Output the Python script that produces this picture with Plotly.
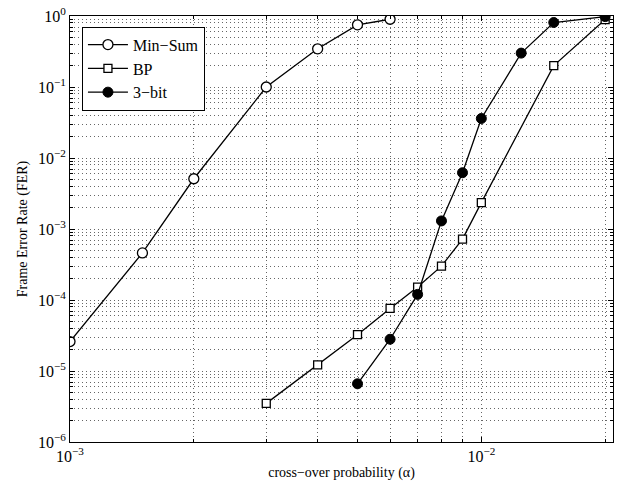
import plotly.graph_objects as go

ms_x = [1e-3, 1.5e-3, 2e-3, 3e-3, 4e-3, 5e-3, 6e-3]
ms_y = [2.6e-5, 4.6e-4, 5.1e-3, 0.1, 0.345, 0.75, 0.9]

bp_x = [3e-3, 4e-3, 5e-3, 6e-3, 7e-3, 8e-3, 9e-3, 1e-2, 1.5e-2, 2e-2]
bp_y = [3.5e-6, 1.22e-5, 3.25e-5, 7.6e-5, 1.52e-4, 3.0e-4, 7.2e-4, 2.35e-3, 0.2, 0.89]

b3_x = [5e-3, 6e-3, 7e-3, 8e-3, 9e-3, 1e-2, 1.25e-2, 1.5e-2, 2e-2]
b3_y = [6.6e-6, 2.8e-5, 1.2e-4, 1.3e-3, 6.2e-3, 0.036, 0.3, 0.81, 0.98]

x_ticks = [1e-3, 1e-2]
x_ticktext = ["10<sup>\u22123</sup>", "10<sup>\u22122</sup>"]
y_ticks = [1e-6, 1e-5, 1e-4, 1e-3, 1e-2, 1e-1, 1e0]
y_ticktext = ["10<sup>\u22126</sup>", "10<sup>\u22125</sup>", "10<sup>\u22124</sup>",
              "10<sup>\u22123</sup>", "10<sup>\u22122</sup>", "10<sup>\u22121</sup>",
              "10<sup>0</sup>"]

x_minor = [k * 1e-3 for k in range(2, 10)] + [2e-2]
y_minor = [k * 10.0 ** e for e in range(-6, 0) for k in range(2, 10)]

FONT = "Liberation Serif"

fig = go.Figure()
fig.add_trace(go.Scatter(x=ms_x, y=ms_y, name="Min\u2212Sum", mode="lines+markers",
                         line=dict(color="black", width=1.3),
                         marker=dict(symbol="circle", size=10, color="white",
                                     line=dict(color="black", width=1.3))))
fig.add_trace(go.Scatter(x=bp_x, y=bp_y, name="BP", mode="lines+markers",
                         line=dict(color="black", width=1.3),
                         marker=dict(symbol="square", size=8, color="white",
                                     line=dict(color="black", width=1.3))))
fig.add_trace(go.Scatter(x=b3_x, y=b3_y, name="3\u2212bit", mode="lines+markers",
                         line=dict(color="black", width=1.3),
                         marker=dict(symbol="circle", size=10, color="black",
                                     line=dict(color="black", width=1))))

grid = dict(showgrid=True, gridcolor="rgba(0,0,0,0.6)", griddash="1px,3px", gridwidth=1)

fig.update_xaxes(type="log", range=[-3, -3 + 1.3201], tickvals=x_ticks, ticktext=x_ticktext,
                 ticks="inside", ticklen=5, tickcolor="black", mirror="ticks",
                 showline=True, linecolor="black", linewidth=1,
                 minor=dict(tickvals=x_minor, ticks="inside", ticklen=3, tickcolor="black",
                            **grid),
                 title=dict(text="cross\u2212over probability (\u03b1)", standoff=2,
                            font=dict(family=FONT, size=14, color="black")),
                 tickfont=dict(family=FONT, size=16, color="black"),
                 zeroline=False, **grid)
fig.update_yaxes(type="log", range=[-6, 0], tickvals=y_ticks, ticktext=y_ticktext,
                 ticks="inside", ticklen=5, tickcolor="black", mirror="ticks",
                 showline=True, linecolor="black", linewidth=1,
                 minor=dict(tickvals=y_minor, ticks="inside", ticklen=3, tickcolor="black",
                            **grid),
                 title=dict(text="Frame Error Rate (FER)", standoff=6,
                            font=dict(family=FONT, size=14, color="black")),
                 tickfont=dict(family=FONT, size=16, color="black"),
                 zeroline=False, **grid)

fig.update_layout(
    width=619, height=485,
    margin=dict(l=70, r=5, t=13, b=43),
    plot_bgcolor="white", paper_bgcolor="white",
    font=dict(family=FONT, size=14, color="black"),
    legend=dict(x=0.022, y=0.975, xanchor="left", yanchor="top",
                bordercolor="black", borderwidth=1, bgcolor="white",
                font=dict(family=FONT, size=16, color="black"),
                itemwidth=40, tracegroupgap=0),
)

fig.write_html("out.html")
